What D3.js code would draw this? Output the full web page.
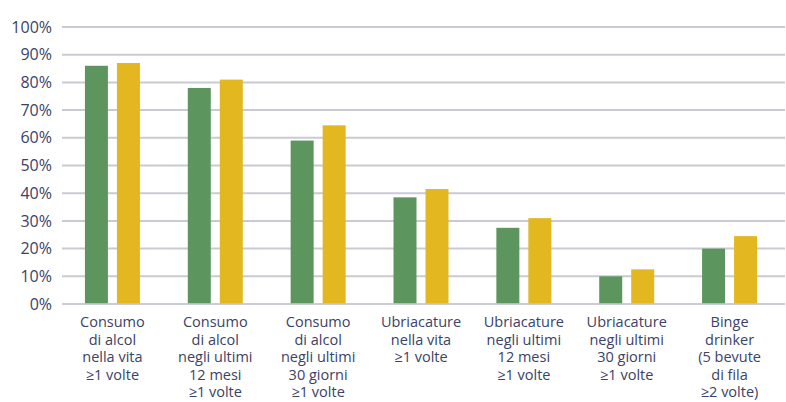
<!DOCTYPE html>
<html lang="it">
  <head>
    <meta charset="UTF-8" />
    <title>Consumo di alcol</title>
    <script src="https://d3js.org/d3.v7.min.js"></script>
    <style>
      body { margin: 0; background: #fff; }
      text { font-family: "Open Sans", sans-serif; fill: #3b4266; }
    </style>
  </head>
  <body>
    <svg width="786" height="402"></svg>
    <script>
      // categories (multi-line labels)
      const categories = [
        ["Consumo", "di alcol", "nella vita", "\u22651 volte"],
        ["Consumo", "di alcol", "negli ultimi", "12 mesi", "\u22651 volte"],
        ["Consumo", "di alcol", "negli ultimi", "30 giorni", "\u22651 volte"],
        ["Ubriacature", "nella vita", "\u22651 volte"],
        ["Ubriacature", "negli ultimi", "12 mesi", "\u22651 volte"],
        ["Ubriacature", "negli ultimi", "30 giorni", "\u22651 volte"],
        ["Binge", "drinker", "(5 bevute", "di fila", "\u22652 volte)"]
      ];
      const seriesA = [86, 78, 59, 38.5, 27.5, 10, 20];
      const seriesB = [87, 81, 64.5, 41.5, 31, 12.5, 24.5];
      const yTicks = [0, 10, 20, 30, 40, 50, 60, 70, 80, 90, 100];

      const svg = d3.select("svg");
      const mLeft = 62, mRight = 785, mTop = 27, mBottom = 304;

      const x = d3.scaleBand()
        .domain(d3.range(categories.length))
        .range([61, 781]);
      const y = d3.scaleLinear().domain([0, 100]).range([mBottom, mTop]);

      // gridlines
      svg.append("g")
        .selectAll("line")
        .data(yTicks.filter(d => d > 0))
        .join("line")
        .attr("x1", mLeft).attr("x2", mRight)
        .attr("y1", d => y(d)).attr("y2", d => y(d))
        .attr("stroke", "#c9cbd3")
        .attr("stroke-width", 2);

      // tick labels
      svg.append("g")
        .selectAll("text")
        .data(yTicks)
        .join("text")
        .attr("x", 52)
        .attr("y", d => y(d))
        .attr("dy", "0.35em")
        .attr("text-anchor", "end")
        .style("font-size", "16px")
        .text(d => d + "%");

      // bars
      const barW = 23, gap = 9;
      const g = svg.append("g");
      g.selectAll(".a")
        .data(seriesA)
        .join("rect")
        .attr("class", "a")
        .attr("x", (d, i) => x(i) + x.bandwidth() / 2 - gap / 2 - barW)
        .attr("y", d => y(d))
        .attr("width", barW)
        .attr("height", d => y(0) - y(d))
        .attr("fill", "#5c965e");
      g.selectAll(".b")
        .data(seriesB)
        .join("rect")
        .attr("class", "b")
        .attr("x", (d, i) => x(i) + x.bandwidth() / 2 + gap / 2)
        .attr("y", d => y(d))
        .attr("width", barW)
        .attr("height", d => y(0) - y(d))
        .attr("fill", "#e2b720");

      // baseline over the bars
      svg.append("line")
        .attr("x1", mLeft).attr("x2", mRight)
        .attr("y1", y(0)).attr("y2", y(0))
        .attr("stroke", "#c2c4cc")
        .attr("stroke-opacity", 0.85)
        .attr("stroke-width", 2);

      // category labels
      const lab = svg.append("g")
        .selectAll("text")
        .data(categories)
        .join("text")
        .attr("text-anchor", "middle")
        .style("font-size", "14.5px");
      lab.selectAll("tspan")
        .data((d, i) => d.map(t => ({ t, i })))
        .join("tspan")
        .attr("x", d => x(d.i) + x.bandwidth() / 2)
        .attr("y", (d, j) => 327 + j * 17.6)
        .text(d => d.t);
    </script>
  </body>
</html>
